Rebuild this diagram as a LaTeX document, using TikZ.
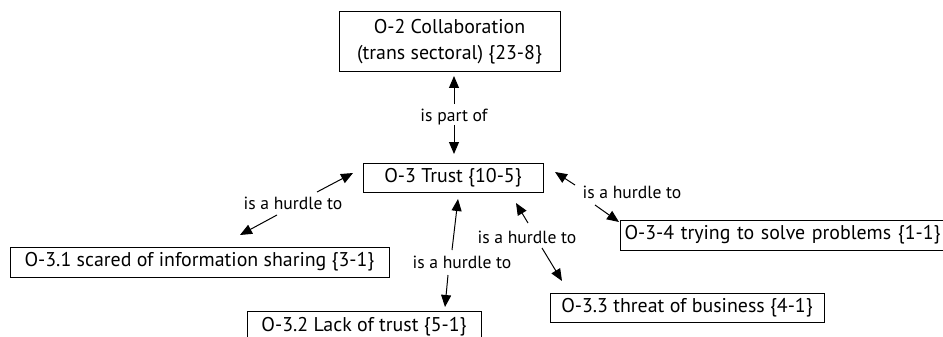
\documentclass[tikz,border=0pt]{standalone}
\usepackage{fontspec}
\setmainfont{PT Sans}
\usetikzlibrary{arrows.meta}
\tikzset{
  code/.style={draw=black, line width=1pt, inner sep=0pt, align=center,
    font=\fontsize{19.9}{26}\selectfont},
  rel/.style={inner sep=1pt, font=\fontsize{17.6}{20}\selectfont},
  link/.style={line width=1pt, -{Triangle[length=12pt,width=10pt]}},
}
\begin{document}
\begin{tikzpicture}[x=1pt,y=-1pt]
\useasboundingbox (0,0) rectangle (943,337);

% concept boxes
\node[code, minimum width=221pt, minimum height=60pt] (o2) at (449.5,42)
  {O-2 Collaboration\\(trans sectoral) \{23-8\}};
\node[code, minimum width=180pt, minimum height=29pt] (o3) at (453,177.5)
  {O-3 Trust \{10-5\}};
\node[code, minimum width=379pt, minimum height=30pt] (o31) at (199.5,262)
  {O-3.1 scared of information sharing \{3-1\}};
\node[code, minimum width=234pt, minimum height=32pt] (o32) at (364,327)
  {O-3.2 Lack of trust \{5-1\}};
\node[code, minimum width=274pt, minimum height=29pt] (o33) at (687,307.5)
  {O-3.3 threat of business \{4-1\}};
\node[code, minimum height=30pt, inner xsep=4pt, text width=340pt, align=left,
  anchor=west] (o34) at (620,235)
  {O-3-4 trying to solve problems \{1-1\}};

% relation labels
\node[rel] (rpart) at (454,117) {is part of};
\node[rel] (r31) at (293,203) {is a hurdle to};
\node[rel] (r32) at (462,262) {is a hurdle to};
\node[rel] (r33) at (527,237) {is a hurdle to};
\node[rel] (r34) at (632,192) {is a hurdle to};

% arrow end points
\coordinate (pa1) at (454,104); \coordinate (pa2) at (454,76);
\coordinate (pb1) at (454,125); \coordinate (pb2) at (454,154);
\coordinate (a1) at (317,192);  \coordinate (a2) at (353,173);
\coordinate (b1) at (277,215);  \coordinate (b2) at (240,235);
\coordinate (c1) at (452,250);  \coordinate (c2) at (458,199);
\coordinate (d1) at (448,275);  \coordinate (d2) at (445,307);
\coordinate (e1) at (528,223);  \coordinate (e2) at (516,203);
\coordinate (f1) at (542,248);  \coordinate (f2) at (562,281);
\coordinate (g1) at (575,185);  \coordinate (g2) at (555,172);
\coordinate (h1) at (595,205);  \coordinate (h2) at (619,222);

% connectors
\draw[link] (pa1) -- (pa2);
\draw[link] (pb1) -- (pb2);
\draw[link] (a1) -- (a2);
\draw[link] (b1) -- (b2);
\draw[link] (c1) -- (c2);
\draw[link] (d1) -- (d2);
\draw[link] (e1) -- (e2);
\draw[link] (f1) -- (f2);
\draw[link] (g1) -- (g2);
\draw[link] (h1) -- (h2);
\end{tikzpicture}
\end{document}
